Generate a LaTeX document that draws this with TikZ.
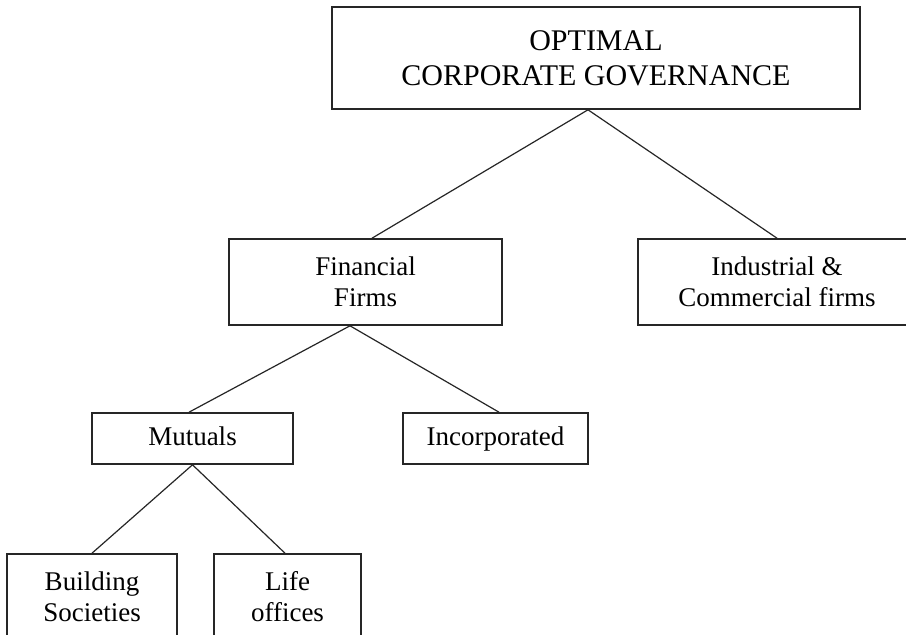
\documentclass[tikz,border=0pt]{standalone}
\usepackage{fontspec}
\setmainfont{Liberation Serif}
\begin{document}
\begin{tikzpicture}[x=1pt,y=-1pt,
  box/.style={draw=black!85,line width=1.6pt,inner sep=0pt,align=center,
    font=\fontsize{27}{31}\selectfont},
  onebox/.style={box,text height=19pt,text depth=6pt},
  titlebox/.style={box,font=\fontsize{30}{35}\selectfont},
  link/.style={draw=black!85,line width=1.2pt}]
\fill[white] (0,0) rectangle (906,635);
\useasboundingbox (0,0) rectangle (906,635);
\node[titlebox,minimum width=528pt,minimum height=102pt] (top) at (596,58) {OPTIMAL\\CORPORATE GOVERNANCE};
\node[box,minimum width=273pt,minimum height=86pt] (fin) at (365.5,282) {Financial\\Firms};
\node[box,minimum width=278pt,minimum height=86pt] (ind) at (777,282) {Industrial \&\\Commercial firms};
\node[onebox,minimum width=201pt,minimum height=51pt] (mut) at (192.5,438.5) {Mutuals};
\node[onebox,minimum width=185pt,minimum height=51pt] (inc) at (495.5,438.5) {Incorporated};
\node[box,minimum width=170pt,minimum height=86pt] (bld) at (92,597) {Building\\Societies};
\node[box,minimum width=147pt,minimum height=86pt] (life) at (287.5,597) {Life\\offices};
\draw[link] ([xshift=-8pt]top.south) -- ([xshift=6.5pt]fin.north);
\draw[link] ([xshift=-8pt]top.south) -- (ind.north);
\draw[link] ([xshift=-15.5pt]fin.south) -- ([xshift=-3.5pt]mut.north);
\draw[link] ([xshift=-15.5pt]fin.south) -- ([xshift=3.5pt]inc.north);
\draw[link] (mut.south) -- (bld.north);
\draw[link] (mut.south) -- ([xshift=-2.5pt]life.north);
\end{tikzpicture}
\end{document}
